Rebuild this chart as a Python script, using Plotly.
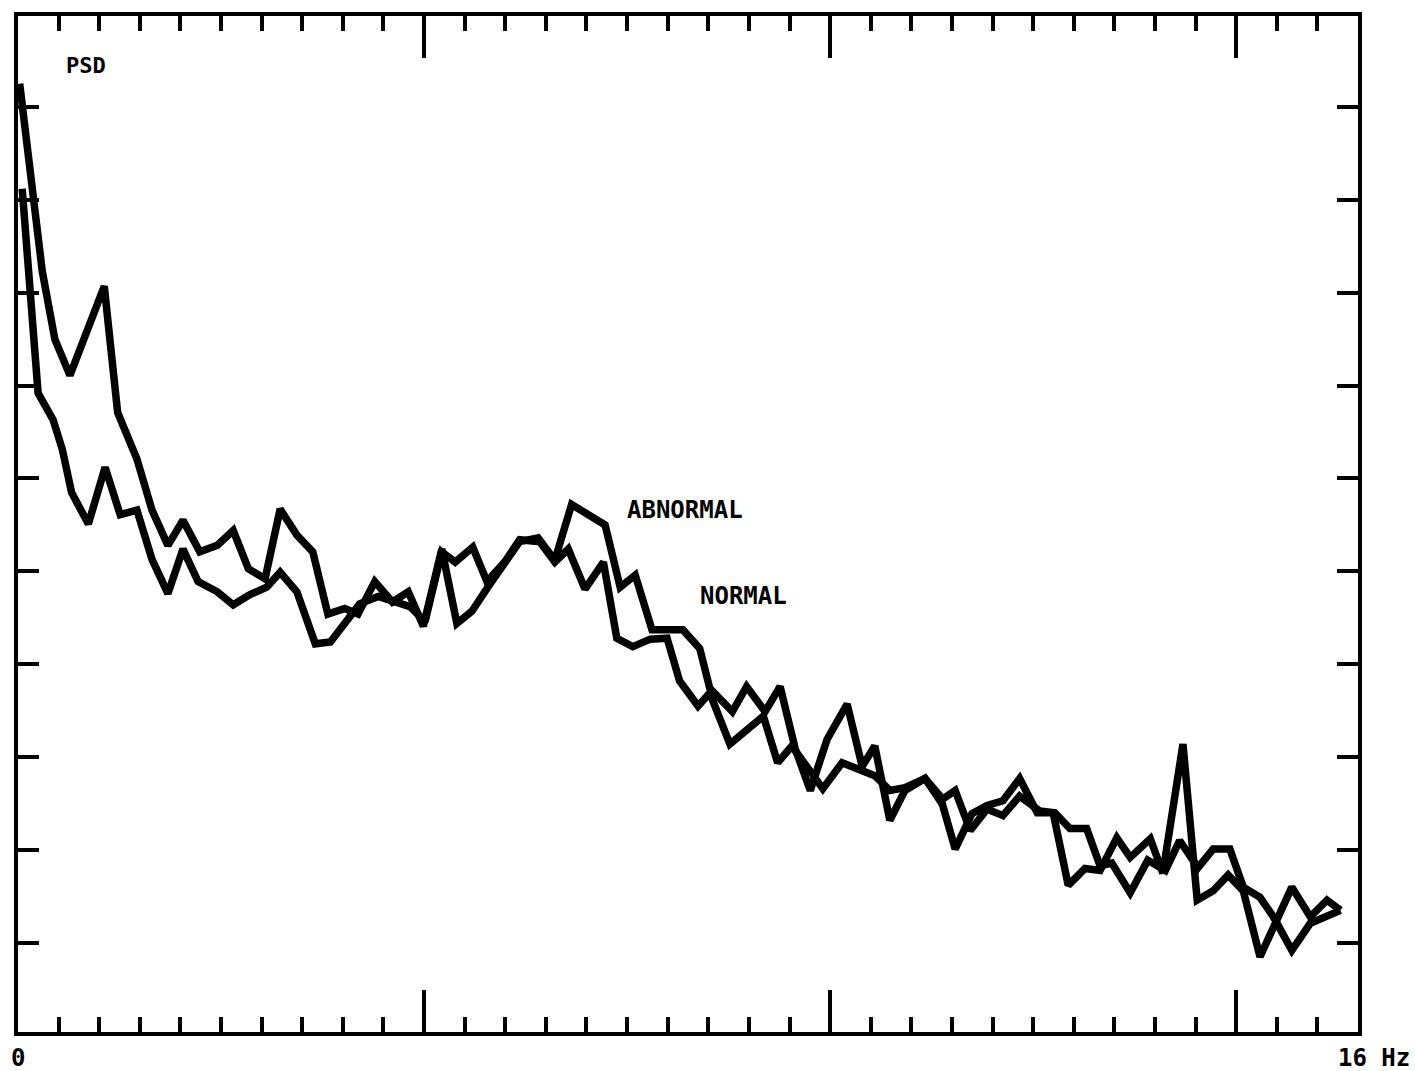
import plotly.graph_objects as go

# ---- data ----
# frequency in Hz, PSD in axis divisions (unlabelled scale, 0..11)
abn_f = [0.02, 0.29, 0.44, 0.62, 1.03, 1.19, 1.42, 1.60, 1.79, 1.97, 2.17, 2.38, 2.57, 2.75, 2.95,
         3.13, 3.33, 3.52, 3.70, 3.90, 4.06, 4.26, 4.47, 4.66, 4.84, 5.06, 5.24, 5.42, 5.61, 5.81,
         5.99, 6.21, 6.41, 6.61, 6.81, 7.01, 7.19, 7.37, 7.57, 7.94, 8.14, 8.26, 8.53, 8.70, 8.92,
         9.10, 9.28, 9.46, 9.66, 9.90, 10.08, 10.23, 10.41, 10.59, 10.83, 11.01, 11.19, 11.39, 11.57,
         11.76, 11.96, 12.17, 12.36, 12.54, 12.74, 12.92, 13.12, 13.28, 13.52, 13.67, 13.91, 14.08,
         14.27, 14.45, 14.63, 14.83, 15.21, 15.43, 15.63, 15.79]
abn_v = [10.25, 8.23, 7.50, 7.11, 8.07, 6.71, 6.21, 5.66, 5.28, 5.55, 5.21, 5.28, 5.44, 5.03, 4.92,
         5.67, 5.39, 5.21, 4.54, 4.60, 4.54, 4.89, 4.67, 4.78, 4.41, 5.24, 4.44, 4.57, 4.83, 5.08,
         5.32, 5.36, 5.12, 5.72, 5.62, 5.50, 4.83, 4.96, 4.37, 4.37, 4.17, 3.74, 3.49, 3.76, 3.49,
         3.76, 3.09, 2.64, 3.19, 3.57, 2.90, 3.12, 2.32, 2.64, 2.77, 2.58, 2.01, 2.39, 2.48,
         2.53, 2.77, 2.40, 2.40, 1.62, 1.80, 1.78, 2.13, 1.92, 2.12, 1.75, 3.14, 1.46,
         1.56, 1.73, 1.56, 0.85, 1.60, 1.28, 1.46, 1.35]

nor_f = [0.05, 0.24, 0.42, 0.53, 0.64, 0.84, 1.04, 1.22, 1.42, 1.60, 1.79, 1.97, 2.15, 2.38, 2.57,
         2.77, 2.97, 3.13, 3.33, 3.55, 3.73, 3.93, 4.08, 4.30, 4.50, 4.68, 4.86, 5.06, 5.22, 5.43,
         5.60, 5.81, 5.99, 6.23, 6.41, 6.57, 6.77, 6.99, 7.15, 7.34, 7.55, 7.75, 7.90, 8.12, 8.26,
         8.50, 8.90, 9.07, 9.24, 9.43, 9.61, 9.84, 10.05, 10.23, 10.41, 10.59, 10.83, 11.01, 11.19,
         11.37, 11.57, 11.76, 11.96, 12.20, 12.38, 12.56, 12.76, 12.92, 13.06, 13.28, 13.49, 13.70,
         13.87, 14.09, 14.27, 14.47, 14.63, 14.83, 14.99, 15.21, 15.43, 15.58, 15.79]
nor_v = [9.12, 6.92, 6.63, 6.31, 5.85, 5.51, 6.12, 5.61, 5.66, 5.13, 4.76, 5.24, 4.89, 4.78, 4.64,
         4.75, 4.83, 4.99, 4.78, 4.22, 4.24, 4.46, 4.65, 4.73, 4.67, 4.62, 4.46, 5.21, 5.10, 5.26,
         4.89, 5.10, 5.34, 5.32, 5.10, 5.24, 4.81, 5.10, 4.28, 4.19, 4.27, 4.28, 3.82, 3.55, 3.69,
         3.14, 3.44, 2.94, 3.12, 2.87, 2.66, 2.94, 2.87, 2.80, 2.64, 2.67, 2.77, 2.53, 2.64,
         2.21, 2.44, 2.37, 2.58, 2.42, 2.40, 2.23, 2.23, 1.83, 1.86, 1.54, 1.89, 1.78,
         2.10, 1.81, 2.01, 2.01, 1.60, 1.49, 1.28, 0.92, 1.21, 1.26, 1.35]

x_max = 16.0
x_minor_step = 16.0 / 33
x_major_vals = [160.0 / 33, 320.0 / 33, 480.0 / 33]
y_tick_vals = [1, 2, 3, 4, 5, 6, 7, 8, 9, 10]

FONT = "DejaVu Sans Mono"

fig = go.Figure()
for xs, ys, name in [(abn_f, abn_v, "ABNORMAL"), (nor_f, nor_v, "NORMAL")]:
    fig.add_trace(go.Scatter(x=xs, y=ys, mode="lines", name=name,
                             line=dict(color="black", width=7.5), showlegend=False,
                             hoverinfo="skip"))

fig.update_layout(
    width=1415, height=1071,
    margin=dict(l=18, r=57, t=12, b=39),
    paper_bgcolor="white", plot_bgcolor="white",
    font=dict(family=FONT, color="black", size=24),
)
fig.update_xaxes(
    range=[0, x_max], showgrid=False, zeroline=False,
    showline=True, linecolor="black", linewidth=4, mirror="ticks",
    ticks="inside", tickmode="array", tickvals=x_major_vals,
    ticklen=42, tickwidth=4, tickcolor="black", showticklabels=False,
    minor=dict(ticks="inside", dtick=x_minor_step, tick0=0, ticklen=15,
               tickwidth=4, tickcolor="black", showgrid=False),
)
fig.update_yaxes(
    range=[0.04, 10.98], showgrid=False, zeroline=False,
    showline=True, linecolor="black", linewidth=4, mirror="ticks",
    ticks="inside", tickmode="array", tickvals=y_tick_vals,
    ticklen=21, tickwidth=4, tickcolor="black", showticklabels=False,
)

fig.add_annotation(x=0, y=0, xref="x", yref="paper", text="<b>0</b>", showarrow=False,
                   xanchor="center", yanchor="top", yshift=-10, font=dict(size=24))
fig.add_annotation(x=x_max, y=0, xref="x", yref="paper", text="<b>16 Hz</b>", showarrow=False,
                   xanchor="left", yanchor="top", xshift=-22, yshift=-10, font=dict(size=24))
fig.add_annotation(x=0.55, y=10.45, xref="x", yref="y", text="<b>PSD</b>", showarrow=False,
                   xanchor="left", yanchor="middle", font=dict(size=22))
fig.add_annotation(x=7.25, y=5.66, xref="x", yref="y", text="<b>ABNORMAL</b>", showarrow=False,
                   xanchor="left", yanchor="middle", font=dict(size=24))
fig.add_annotation(x=8.12, y=4.74, xref="x", yref="y", text="<b>NORMAL</b>", showarrow=False,
                   xanchor="left", yanchor="middle", font=dict(size=24))

fig.write_html("out.html", config={"displayModeBar": False, "staticPlot": True})

# remove the browser's default page margin so the figure sits at the window's corner
with open("out.html", "r", encoding="utf-8") as fh:
    html = fh.read()
html = html.replace("<head>", "<head><style>html,body{margin:0;padding:0;overflow:hidden;}</style>", 1)
with open("out.html", "w", encoding="utf-8") as fh:
    fh.write(html)
